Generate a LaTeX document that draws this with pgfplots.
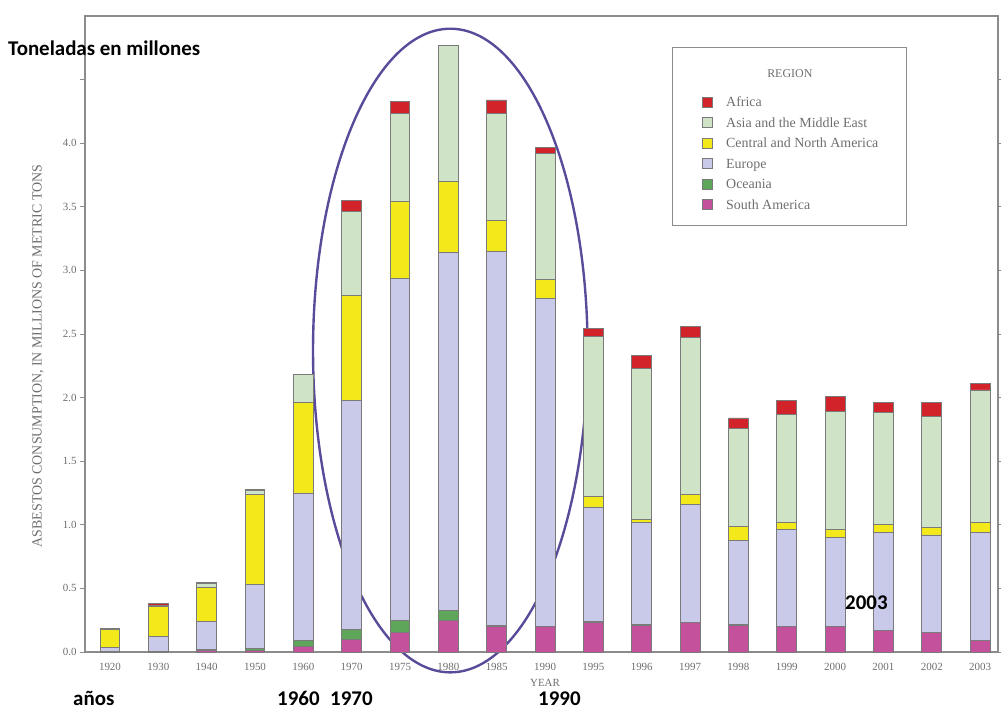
\documentclass[border=0pt]{standalone}
\usepackage{pgfplots}
\pgfplotsset{compat=1.18}
\usepackage{pgfplotstable}
\usepackage{fontspec}
\setmainfont{Liberation Serif}
\newfontfamily\annot{Carlito}

\definecolor{cAfr}{HTML}{D2232A}
\definecolor{cAsia}{HTML}{CFE3C6}
\definecolor{cCna}{HTML}{F2E81A}
\definecolor{cEur}{HTML}{C9C9E9}
\definecolor{cOce}{HTML}{5EA65A}
\definecolor{cSa}{HTML}{C4519C}
\definecolor{bargray}{HTML}{7A7A7A}
\definecolor{axisgray}{HTML}{8C8C8C}
\definecolor{txtgray}{HTML}{6E6E6E}
\definecolor{ringcol}{HTML}{5A4A9A}

% index year: 0=1920 ... 18=2003
\pgfplotstableread{
x  sa    oc    eu    cna   asia  afr
0  0.00  0.005 0.03  0.14  0.01  0.00
1  0.00  0.005 0.12  0.23  0.01  0.015
2  0.01  0.01  0.22  0.27  0.03  0.005
3  0.01  0.02  0.50  0.71  0.03  0.005
4  0.04  0.05  1.16  0.71  0.22  0.00
5  0.10  0.08  1.80  0.82  0.66  0.09
6  0.15  0.10  2.69  0.60  0.69  0.10
7  0.25  0.08  2.81  0.56  1.07  0.00
8  0.20  0.01  2.94  0.24  0.84  0.11
9  0.20  0.00  2.58  0.15  0.99  0.05
10 0.23  0.01  0.90  0.08  1.26  0.06
11 0.21  0.01  0.80  0.02  1.19  0.10
12 0.23  0.00  0.93  0.08  1.23  0.09
13 0.21  0.01  0.66  0.11  0.77  0.08
14 0.20  0.00  0.76  0.06  0.85  0.11
15 0.20  0.00  0.70  0.06  0.93  0.12
16 0.17  0.00  0.77  0.06  0.88  0.08
17 0.15  0.00  0.77  0.06  0.87  0.11
18 0.09  0.00  0.85  0.08  1.04  0.05
}\asbestos

\begin{document}
\begin{tikzpicture}
\begin{axis}[
  scale only axis, width=913bp, height=636bp,
  xmin=-0.517, xmax=18.37, ymin=0, ymax=5.0,
  ybar stacked, bar width=0.41,
  axis line style={draw=axisgray, line width=1.1pt},
  xtick={0,...,18},
  xticklabels={1920,1930,1940,1950,1960,1970,1975,1980,1985,1990,1995,1996,1997,1998,1999,2000,2001,2002,2003},
  ytick={0,0.5,1,1.5,2,2.5,3,3.5,4,4.5},
  yticklabels={0.0,0.5,1.0,1.5,2.0,2.5,3.0,3.5,4.0,{}},
  x tick style={draw=none},
  y tick style={draw=axisgray, line width=0.8pt},
  tick align=outside, major tick length=5bp,
  ticklabel style={font=\fontsize{11}{11}\selectfont, text=txtgray},
  xticklabel style={yshift=-3bp},
  /pgf/number format/assume math mode=true,
  clip=false,
  every axis plot/.append style={draw=bargray, line width=0.9pt},
  reverse legend, legend cell align=left,
  legend image code/.code={\draw[#1,draw=bargray,line width=0.8pt] (0bp,-5bp) rectangle (10bp,5bp);},
  legend style={at={(rel axis cs:0.676,0.878)}, anchor=north west, draw=none, fill=none,
    font=\fontsize{14}{14}\selectfont\color{txtgray}, row sep=4bp, inner sep=0pt,
    cells={text height=11bp, text depth=4bp},
    /tikz/every odd column/.append style={column sep=11bp}},
]
\addplot[fill=cSa]   table[x=x, y=sa]   {\asbestos};
\addplot[fill=cOce]  table[x=x, y=oc]   {\asbestos};
\addplot[fill=cEur]  table[x=x, y=eu]   {\asbestos};
\addplot[fill=cCna]  table[x=x, y=cna]  {\asbestos};
\addplot[fill=cAsia] table[x=x, y=asia] {\asbestos};
\addplot[fill=cAfr]  table[x=x, y=afr]  {\asbestos};
\legend{South America,Oceania,Europe,Central and North America,Asia and the Middle East,Africa}

% legend frame and title
\draw[axisgray, line width=1pt] (rel axis cs:0.644,0.671) rectangle (rel axis cs:0.900,0.951);
\node[font=\fontsize{12}{12}\selectfont, text=txtgray] at (rel axis cs:0.772,0.910) {REGION};

% ring round 1970--1990
\draw[ringcol, line width=2.4pt] (axis cs:7.04,2.37) ellipse [x radius=2.84, y radius=2.53];
\end{axis}

\node[rotate=90, font=\fontsize{14}{14}\selectfont, text=txtgray] at (-47bp,296bp)
  {ASBESTOS CONSUMPTION, IN MILLIONS OF METRIC TONS};
\node[font=\fontsize{11}{11}\selectfont, text=txtgray] at (460bp,-31bp) {YEAR};

\begin{scope}[every node/.style={font=\annot\bfseries\fontsize{21}{21}\selectfont, inner sep=0pt}]
\node[anchor=base west] at (-77bp,596bp) {Toneladas en millones};
\node[anchor=base west] at (-12bp,-53bp) {años};
\node[anchor=base west] at (192bp,-53bp) {1960};
\node[anchor=base west] at (245bp,-53bp) {1970};
\node[anchor=base west] at (453bp,-53bp) {1990};
\node[anchor=base west] at (760bp,42bp) {2003};
\end{scope}

\pgfresetboundingbox
\path (-85bp,-57bp) rectangle (916bp,652bp);
\end{tikzpicture}
\end{document}
